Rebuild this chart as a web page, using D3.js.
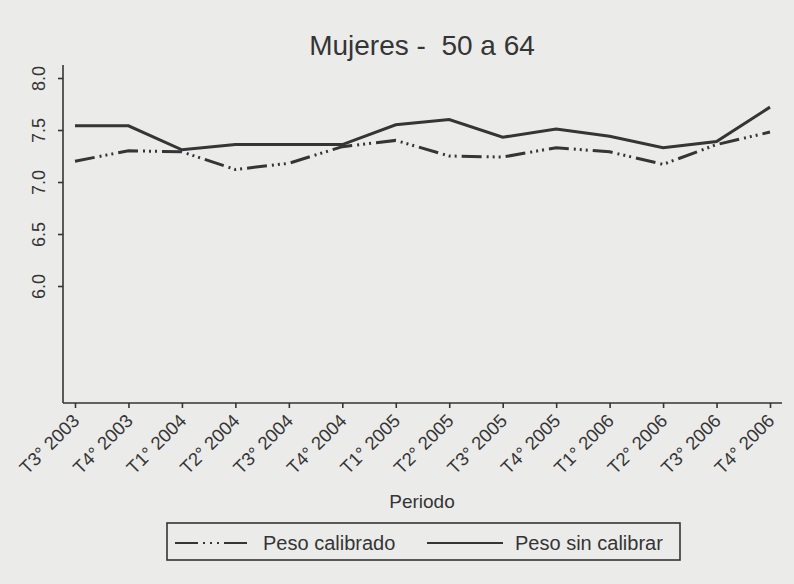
<!DOCTYPE html>
<html>
<head>
<meta charset="utf-8">
<script src="https://cdn.jsdelivr.net/npm/d3@7"></script>
<style>
  body { margin: 0; background: #ebebea; }
  svg { display: block; font-family: "Liberation Sans", Arial, sans-serif; }
</style>
</head>
<body>
<svg id="chart" width="794" height="584"></svg>
<script>
// periods on the x axis
var periodos = ["T3\u00b0 2003", "T4\u00b0 2003", "T1\u00b0 2004", "T2\u00b0 2004", "T3\u00b0 2004", "T4\u00b0 2004",
  "T1\u00b0 2005", "T2\u00b0 2005", "T3\u00b0 2005", "T4\u00b0 2005", "T1\u00b0 2006", "T2\u00b0 2006",
  "T3\u00b0 2006", "T4\u00b0 2006"];
var pesoCalibrado = [7.20, 7.30, 7.29, 7.12, 7.18, 7.34, 7.40, 7.25, 7.24, 7.33, 7.29, 7.17, 7.36, 7.48];
var pesoSinCalibrar = [7.54, 7.54, 7.31, 7.36, 7.36, 7.36, 7.55, 7.60, 7.43, 7.51, 7.44, 7.33, 7.39, 7.72];
var yTicks = [6.0, 6.5, 7.0, 7.5, 8.0];
var series = [
  {name: "Peso calibrado", values: pesoCalibrado, dash: "20,5,2,4,2,4,2,5"},
  {name: "Peso sin calibrar", values: pesoSinCalibrar, dash: null}
];

var svg = d3.select("#chart");
var ink = "#353535";

var x = d3.scalePoint().domain(periodos).range([75, 770]);
var y = d3.scaleLinear().domain([4.875, 8.125]).range([403, 65]);

// title
svg.append("text")
  .attr("x", 422).attr("y", 55)
  .attr("text-anchor", "middle")
  .attr("font-size", 28)
  .attr("fill", ink)
  .style("white-space", "pre")
  .text("Mujeres -  50 a 64");

// y axis
var yAxis = svg.append("g")
  .attr("transform", "translate(63,0)")
  .call(d3.axisLeft(y).tickValues(yTicks).tickFormat(d3.format(".1f")).tickSize(5));
yAxis.select(".domain").attr("d", "M0,65V403").attr("stroke", ink).attr("stroke-width", 1.6);
yAxis.selectAll(".tick line").attr("stroke", ink).attr("stroke-width", 1.6);
yAxis.selectAll(".tick text")
  .attr("transform", "rotate(-90)")
  .attr("x", 0).attr("y", -18)
  .attr("dy", 0)
  .attr("text-anchor", "middle")
  .attr("font-size", 18)
  .attr("fill", ink);

// x axis
var xAxis = svg.append("g")
  .attr("transform", "translate(0,403)")
  .call(d3.axisBottom(x).tickSize(5));
xAxis.select(".domain").attr("d", "M63,0H782").attr("stroke", ink).attr("stroke-width", 1.6);
xAxis.selectAll(".tick line").attr("stroke", ink).attr("stroke-width", 1.6);
xAxis.selectAll(".tick text")
  .attr("y", 0).attr("x", 0).attr("dy", 0)
  .attr("transform", "translate(5,19) rotate(-45)")
  .attr("text-anchor", "end")
  .attr("font-size", 18.5)
  .attr("fill", ink);

svg.append("text")
  .attr("x", 422).attr("y", 508)
  .attr("text-anchor", "middle")
  .attr("font-size", 19)
  .attr("fill", ink)
  .text("Periodo");

// lines
var line = d3.line()
  .x(function(d, i) { return x(periodos[i]); })
  .y(function(d) { return y(d); });

svg.selectAll("path.serie")
  .data(series)
  .enter().append("path")
    .attr("class", "serie")
    .attr("d", function(d) { return line(d.values); })
    .attr("fill", "none")
    .attr("stroke", ink)
    .attr("stroke-width", 3)
    .attr("stroke-dasharray", function(d) { return d.dash; });

// legend
var legend = svg.append("g");
legend.append("rect")
  .attr("x", 167).attr("y", 523)
  .attr("width", 513).attr("height", 37)
  .attr("fill", "none")
  .attr("stroke", ink)
  .attr("stroke-width", 1.6);

var items = legend.selectAll("g.item")
  .data(series)
  .enter().append("g")
    .attr("class", "item")
    .attr("transform", function(d, i) { return "translate(" + (i == 0 ? 175 : 427) + ",543)"; });
items.append("line")
  .attr("x1", 0).attr("x2", function(d, i) { return i == 0 ? 72 : 76; })
  .attr("y1", 0).attr("y2", 0)
  .attr("stroke", ink)
  .attr("stroke-width", 2)
  .attr("stroke-dasharray", function(d) { return d.dash ? "23,5,2,5,2,5,2,5" : null; });
items.append("text")
  .attr("x", 88)
  .attr("y", 7)
  .attr("font-size", 20)
  .attr("fill", ink)
  .text(function(d) { return d.name; });
</script>
</body>
</html>
